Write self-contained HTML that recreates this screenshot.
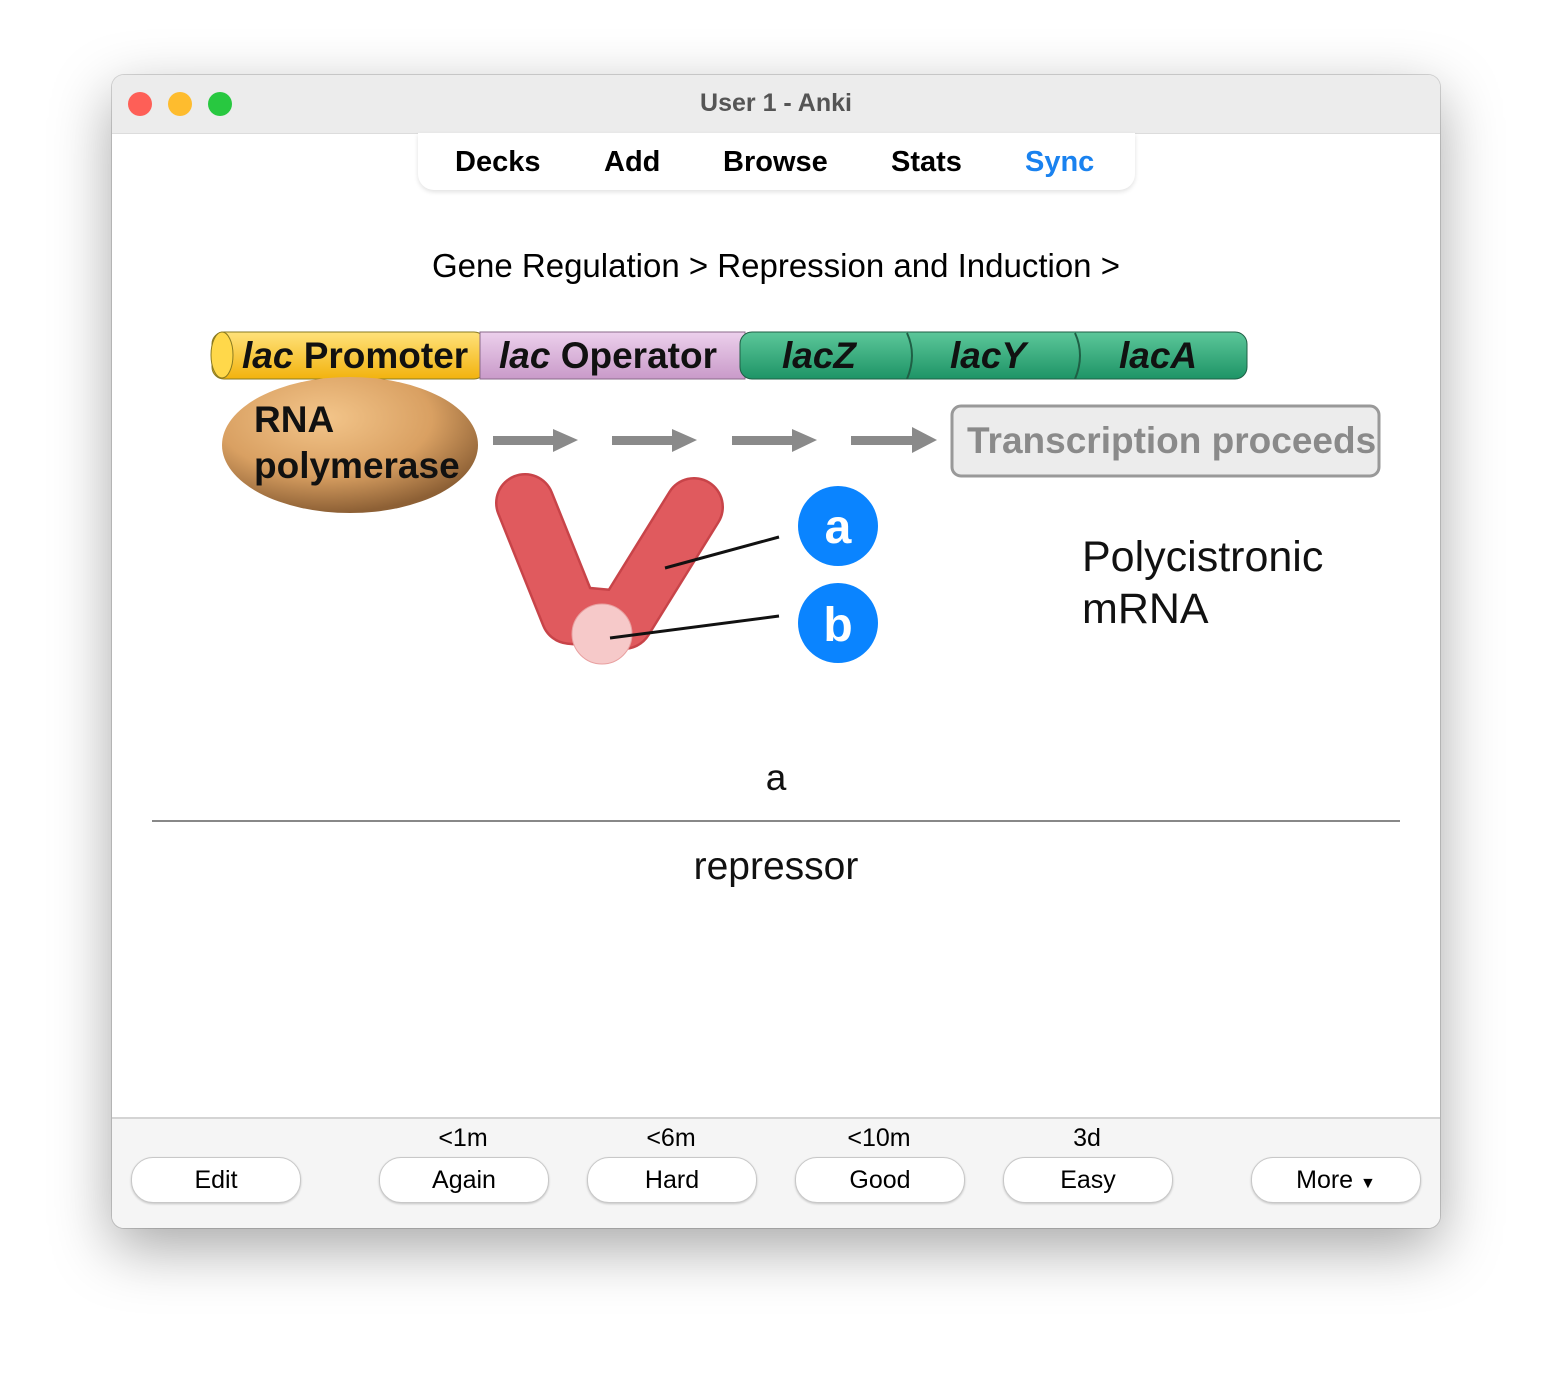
<!DOCTYPE html>
<html><head><meta charset="utf-8"><style>
html,body{margin:0;padding:0;width:1552px;height:1376px;background:#fff;overflow:hidden;font-family:"Liberation Sans",Arial,sans-serif}
.win{position:absolute;left:112px;top:75px;width:1328px;height:1153px;border-radius:12px;background:#fff;box-shadow:0 20px 60px rgba(0,0,0,.35),0 0 0 1px rgba(0,0,0,.15);overflow:hidden}
.tb{position:absolute;left:0;top:0;width:100%;height:58px;background:#ececec;border-bottom:1px solid #dcdcdc}
.dot{position:absolute;top:17px;width:24px;height:24px;border-radius:50%}
.t{position:absolute;font-size:25px;white-space:nowrap}
.nav{position:absolute;left:306px;top:58px;width:717px;height:57px;background:#fff;border-radius:0 0 16px 16px;box-shadow:0 2px 5px rgba(0,0,0,.12)}
.nav span{position:absolute;top:13px;font-size:29px;font-weight:bold}
.bot{position:absolute;left:0;top:1042px;width:100%;height:111px;background:#f5f5f5;border-top:2px solid #d4d4d4}
.btn{position:absolute;top:38px;width:168px;height:44px;border-radius:22px;background:#fff;border:1px solid #c8c8c8;box-shadow:0 1px 2px rgba(0,0,0,.2);font-size:25px;text-align:center;line-height:44px}
.lbl{position:absolute;top:5px;font-size:25px;width:168px;text-align:center}
</style></head><body>
<div class="win">
 <div class="tb">
  <div class="dot" style="left:16px;background:#fe5f57"></div>
  <div class="dot" style="left:56px;background:#febc2e"></div>
  <div class="dot" style="left:96px;background:#28c840"></div>
  <div class="t" style="left:0;width:100%;text-align:center;top:14px;font-weight:bold;color:#555">User 1 - Anki</div>
 </div>
 <div class="nav">
  <span style="left:37px">Decks</span><span style="left:186px">Add</span><span style="left:305px">Browse</span><span style="left:473px">Stats</span><span style="left:607px;color:#1a82ef">Sync</span>
 </div>
 <div class="t" style="left:0;width:100%;text-align:center;top:172px;font-size:33px">Gene Regulation &gt; Repression and Induction &gt;</div>
 <svg style="position:absolute;left:0;top:0" width="1328" height="1042">
  <defs>
   <radialGradient id="pol" cx="40%" cy="30%" r="70%"><stop offset="0" stop-color="#f3c58a"/><stop offset=".6" stop-color="#d9a062"/><stop offset="1" stop-color="#8d6035"/></radialGradient>
   <linearGradient id="y" x1="0" y1="0" x2="0" y2="1"><stop offset="0" stop-color="#ffe27a"/><stop offset="1" stop-color="#f2b30e"/></linearGradient>
   <linearGradient id="p" x1="0" y1="0" x2="0" y2="1"><stop offset="0" stop-color="#ecd0ec"/><stop offset="1" stop-color="#c99ac9"/></linearGradient>
   <linearGradient id="g" x1="0" y1="0" x2="0" y2="1"><stop offset="0" stop-color="#5cc79a"/><stop offset="1" stop-color="#1e9466"/></linearGradient>
  </defs>
  <rect x="100" y="257" width="274" height="47" rx="12" fill="url(#y)" stroke="#8a7a20"/>
  <rect x="368" y="257" width="265" height="47" fill="url(#p)" stroke="#8a6a8a"/>
  <rect x="628" y="257" width="507" height="47" rx="12" fill="url(#g)" stroke="#1f5f45"/>
  <ellipse cx="110" cy="280" rx="11" ry="23" fill="#ffd84a" stroke="#8a7a20"/>
  <path d="M795 258 q10 22 0 46 M963 258 q10 22 0 46" stroke="#1f5f45" fill="none" stroke-width="2"/>
  <g font-size="37" font-weight="bold" fill="#111">
   <text x="130" y="293"><tspan font-style="italic">lac</tspan> Promoter</text>
   <text x="387" y="293"><tspan font-style="italic">lac</tspan> Operator</text>
   <text x="670" y="293" font-style="italic">lacZ</text>
   <text x="838" y="293" font-style="italic">lacY</text>
   <text x="1007" y="293" font-style="italic">lacA</text>
  </g>
  <ellipse cx="238" cy="370" rx="128" ry="68" fill="url(#pol)"/>
  <text x="142" y="357" font-size="37" font-weight="bold" fill="#111">RNA</text>
  <text x="142" y="403" font-size="37" font-weight="bold" fill="#111">polymerase</text>
  <g fill="#8a8a8a">
   <rect x="381" y="361" width="60" height="9"/><polygon points="441,354 466,365 441,377"/>
   <rect x="500" y="361" width="60" height="9"/><polygon points="560,354 585,365 560,377"/>
   <rect x="620" y="361" width="60" height="9"/><polygon points="680,354 705,365 680,377"/>
   <rect x="739" y="361" width="62" height="9"/><polygon points="800,352 825,365 800,378"/>
  </g>
  <rect x="840" y="331" width="427" height="70" rx="9" fill="#ececec" stroke="#999" stroke-width="3"/>
  <text x="855" y="378" font-size="37" font-weight="bold" fill="#8a8a8a">Transcription proceeds</text>
  <path d="M413 428 L458 540 L512 545 L582 432" fill="none" stroke="#c84449" stroke-width="60" stroke-linecap="round" stroke-linejoin="round"/>
  <path d="M413 428 L458 540 L512 545 L582 432" fill="none" stroke="#e05a5e" stroke-width="55" stroke-linecap="round" stroke-linejoin="round"/>
  <circle cx="490" cy="559" r="30" fill="#f6c9c9" stroke="#e8a0a0"/>
  <line x1="553" y1="493" x2="667" y2="462" stroke="#111" stroke-width="3"/>
  <line x1="498" y1="563" x2="667" y2="541" stroke="#111" stroke-width="3"/>
  <circle cx="726" cy="451" r="40" fill="#0a84ff"/>
  <circle cx="726" cy="548" r="40" fill="#0a84ff"/>
  <text x="726" y="468" font-size="48" font-weight="bold" fill="#fff" text-anchor="middle">a</text>
  <text x="726" y="566" font-size="48" font-weight="bold" fill="#fff" text-anchor="middle">b</text>
  <text x="970" y="496" font-size="43" fill="#111">Polycistronic</text>
  <text x="970" y="548" font-size="43" fill="#111">mRNA</text>
  <text x="664" y="715" font-size="37" text-anchor="middle" fill="#111">a</text>
  <line x1="40" y1="746" x2="1288" y2="746" stroke="#888" stroke-width="2"/>
  <text x="664" y="804" font-size="39" text-anchor="middle" fill="#111">repressor</text>
 </svg>
 <div class="bot">
  <div class="btn" style="left:19px">Edit</div>
  <div class="lbl" style="left:267px">&lt;1m</div><div class="btn" style="left:267px">Again</div>
  <div class="lbl" style="left:475px">&lt;6m</div><div class="btn" style="left:475px">Hard</div>
  <div class="lbl" style="left:683px">&lt;10m</div><div class="btn" style="left:683px">Good</div>
  <div class="lbl" style="left:891px">3d</div><div class="btn" style="left:891px">Easy</div>
  <div class="btn" style="left:1139px">More <span style="font-size:16px">&#9660;</span></div>
 </div>
</div>
</body></html>
